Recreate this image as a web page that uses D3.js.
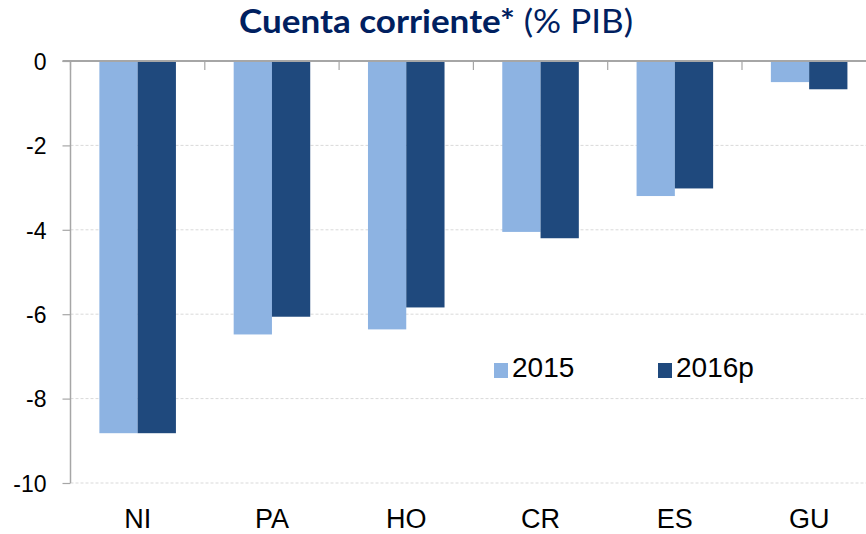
<!DOCTYPE html>
<html>
<head>
<meta charset="utf-8">
<script src="https://cdn.jsdelivr.net/npm/d3@7"></script>
<style>
  body { margin: 0; background: #fff; }
  svg { display: block; }
</style>
</head>
<body>
<svg></svg>
<script>
// data
let categories = ['NI', 'PA', 'HO', 'CR', 'ES', 'GU']
let seriesNames = ['2015', '2016p']
let values2015 = [-8.82, -6.48, -6.36, -4.05, -3.20, -0.50]
let values2016 = [-8.82, -6.06, -5.84, -4.20, -3.02, -0.67]
let yTicks = [0, -2, -4, -6, -8, -10]

let colors = ['#8db3e2', '#1f497d']

let width = 866
let height = 534
let plotLeft = 70.5
let plotTop = 61
let plotBottom = 483
let band = 134.3

let svg = d3.select('svg')
  .attr('width', width)
  .attr('height', height)

let xScale = d3.scaleBand()
  .domain(categories)
  .range([plotLeft, plotLeft + band * categories.length])
  .paddingInner(0.43)
  .paddingOuter(0.215)

let subScale = d3.scaleBand()
  .domain(seriesNames)
  .range([0, xScale.bandwidth()])

let yScale = d3.scaleLinear()
  .domain([0, -10])
  .range([plotTop, plotBottom])

// dashed gridlines
svg.append('g')
  .selectAll('line')
  .data(yTicks.filter(d => d !== 0))
  .enter()
  .append('line')
  .attr('x1', plotLeft)
  .attr('x2', width)
  .attr('y1', d => yScale(d))
  .attr('y2', d => yScale(d))
  .attr('stroke', '#d9d9d9')
  .attr('stroke-width', 1)
  .attr('stroke-dasharray', '3,2')

// bars
let rows = categories.map((c, i) => ({ cat: c, vals: [values2015[i], values2016[i]] }))

let groups = svg.append('g')
  .selectAll('g')
  .data(rows)
  .enter()
  .append('g')
  .attr('transform', d => 'translate(' + xScale(d.cat) + ',0)')

groups.selectAll('rect')
  .data(d => d.vals.map((v, j) => ({ v: v, s: seriesNames[j], j: j })))
  .enter()
  .append('rect')
  .attr('x', d => subScale(d.s))
  .attr('y', yScale(0))
  .attr('width', subScale.bandwidth())
  .attr('height', d => yScale(d.v) - yScale(0))
  .attr('fill', d => colors[d.j])

// y axis
let yAxis = d3.axisLeft(yScale)
  .tickValues(yTicks)
  .tickSize(8)
  .tickFormat(d => String(d))

let yG = svg.append('g')
  .attr('transform', 'translate(' + plotLeft + ',0)')
  .call(yAxis)
yG.select('.domain').attr('stroke', '#a6a6a6').attr('stroke-width', 1.5)
  .attr('d', 'M0,' + plotTop + 'V' + plotBottom)
yG.selectAll('.tick line').attr('stroke', '#a6a6a6').attr('stroke-width', 1.2)
yG.selectAll('.tick text')
  .attr('x', -24)
  .attr('dy', '0.36em')
  .style('font-family', '"Liberation Sans", Arial, sans-serif')
  .style('font-size', '23px')
  .attr('fill', '#000')

// x axis on the zero line
let xAxis = d3.axisBottom(xScale).tickSize(0).tickFormat('')
let xG = svg.append('g')
  .attr('transform', 'translate(0,' + yScale(0) + ')')
  .call(xAxis)
xG.select('.domain').remove()

xG.append('line')
  .attr('x1', plotLeft - 8)
  .attr('x2', width)
  .attr('stroke', '#a6a6a6')
  .attr('stroke-width', 2)

xG.selectAll('.sep')
  .data(d3.range(categories.length + 1))
  .enter()
  .append('line')
  .attr('class', 'sep')
  .attr('x1', i => plotLeft + i * band)
  .attr('x2', i => plotLeft + i * band)
  .attr('y1', 0)
  .attr('y2', 9)
  .attr('stroke', '#a6a6a6')
  .attr('stroke-width', 1.2)

// category labels
svg.append('g')
  .selectAll('text')
  .data(categories)
  .enter()
  .append('text')
  .attr('x', d => xScale(d) + xScale.bandwidth() / 2)
  .attr('y', 528)
  .attr('text-anchor', 'middle')
  .style('font-family', '"Liberation Sans", Arial, sans-serif')
  .style('font-size', '27px')
  .attr('fill', '#000')
  .text(d => d)

// legend
let legendX = [494, 658]
let legend = svg.append('g')
  .selectAll('g')
  .data(seriesNames)
  .enter()
  .append('g')
  .attr('transform', (d, i) => 'translate(' + legendX[i] + ',363)')
legend.append('rect')
  .attr('width', 14)
  .attr('height', 15)
  .attr('fill', (d, i) => colors[i])
legend.append('text')
  .attr('x', 18)
  .attr('y', 14)
  .style('font-family', '"Liberation Sans", Arial, sans-serif')
  .style('font-size', '28px')
  .attr('fill', '#000')
  .text(d => d)

// title
let title = svg.append('text')
  .attr('x', 239)
  .attr('y', 33)
  .attr('textLength', 394)
  .attr('lengthAdjust', 'spacingAndGlyphs')
  .style('font-family', 'Lato, "Open Sans", sans-serif')
  .style('font-size', '33px')
  .attr('fill', '#002060')
title.append('tspan').attr('font-weight', 'bold').text('Cuenta corriente*')
title.append('tspan').attr('font-weight', 'normal').text(' (% PIB)')
</script>
</body>
</html>
